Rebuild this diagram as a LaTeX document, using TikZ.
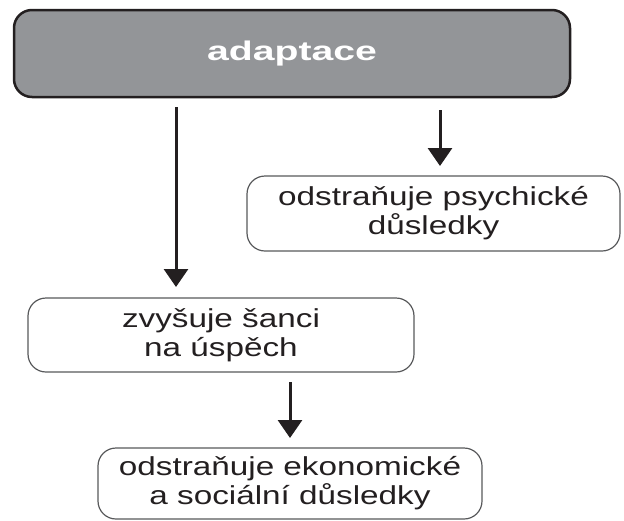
\documentclass[tikz,border=0pt]{standalone}
\usepackage{fontspec}
\setmainfont{Liberation Sans}[FakeStretch=1.28]
\newfontfamily\widebold{Liberation Sans}[FakeStretch=1.45]
\usetikzlibrary{arrows.meta}
\definecolor{inkc}{HTML}{231F20}
\definecolor{boxgray}{HTML}{939598}
\definecolor{edgegray}{HTML}{58595B}
\tikzset{
  topbox/.style={draw=inkc, fill=boxgray, line width=2.5pt, rounded corners=18pt,
    minimum width=556pt, minimum height=87pt, inner sep=0pt, outer sep=0pt,
    text=white, font=\widebold\bfseries\fontsize{27}{27}\selectfont},
  effbox/.style={draw=edgegray, line width=1.2pt, rounded corners=18pt,
    inner sep=0pt, outer sep=0pt, align=center, text=inkc,
    font=\fontsize{26}{29}\selectfont},
  arr/.style={draw=inkc, line width=3pt, -{Triangle[width=24pt,length=18pt]}}
}
\begin{document}
\begin{tikzpicture}[x=1pt,y=-1pt]
\useasboundingbox (0,0) rectangle (624,520);
\node[topbox] (top) at (292,53.5) {adaptace};
\node[effbox, minimum width=373pt, minimum height=75pt] (psy) at (433.5,213.5) {odstraňuje psychické\\důsledky};
\node[effbox, minimum width=386pt, minimum height=74pt] (sance) at (221,335) {zvyšuje šanci\\na úspěch};
\node[effbox, minimum width=384pt, minimum height=71pt] (eko) at (290,483.5) {odstraňuje ekonomické\\a sociální důsledky};
\coordinate (ax) at (176,0);
\coordinate (bx) at (440,0);
\coordinate (cx) at (290,0);
\draw[arr, shorten <=10pt, shorten >=11pt] (top.south -| ax) -- (sance.north -| ax);
\draw[arr, shorten <=13pt, shorten >=10pt] (top.south -| bx) -- (psy.north -| bx);
\draw[arr, shorten <=10pt, shorten >=10pt] (sance.south -| cx) -- (eko.north -| cx);
\end{tikzpicture}
\end{document}
